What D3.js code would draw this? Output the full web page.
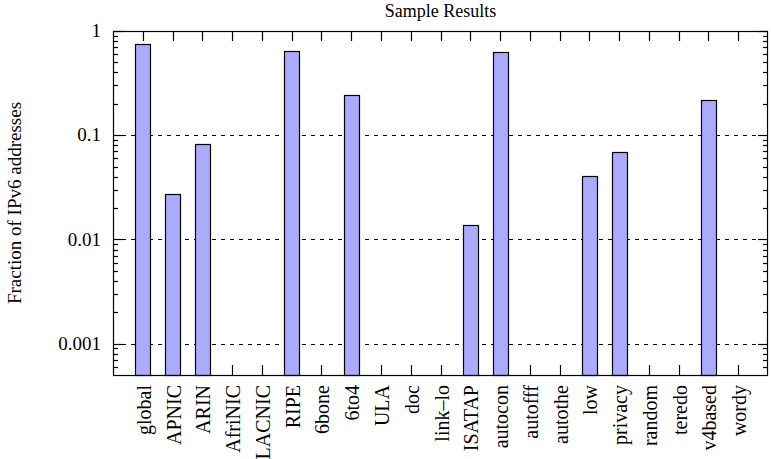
<!DOCTYPE html>
<html>
<head>
<meta charset="utf-8">
<script src="https://cdn.jsdelivr.net/npm/d3@7"></script>
<style>
  body { margin: 0; background: #fff; }
  svg text { font-family: "Liberation Serif", "DejaVu Serif", serif; fill: #000; }
</style>
</head>
<body>
<div id="chart"></div>
<script>
// Categories of IPv6 addresses and the fraction observed for each
const categories = ['global', 'APNIC', 'ARIN', 'AfriNIC', 'LACNIC', 'RIPE', '6bone', '6to4',
    'ULA', 'doc', 'link\u2013lo', 'ISATAP', 'autocon', 'autofff', 'autothe', 'low',
    'privacy', 'random', 'teredo', 'v4based', 'wordy'];
const fractions = [0.75, 0.0272, 0.082, null, null, 0.64, null, 0.242,
    null, null, null, 0.0137, 0.625, null, null, 0.0404,
    0.0687, null, null, 0.216, null];
const yTicks = [1, 0.1, 0.01, 0.001];
const yMinorTicks = [];
[0.001, 0.01, 0.1].forEach(d => { for (let k = 2; k <= 9; k++) yMinorTicks.push(d * k); });
[6, 7, 8, 9].forEach(k => yMinorTicks.push(0.0001 * k));

const width = 771, height = 459;
const margin = { top: 31, right: 3, bottom: 84, left: 113 };
const innerW = width - margin.left - margin.right;
const innerH = height - margin.top - margin.bottom;

const svg = d3.select('#chart').append('svg')
    .attr('width', width)
    .attr('height', height)
    .attr('font-family', '"Liberation Serif", serif');

const g = svg.append('g')
    .attr('transform', `translate(${margin.left},${margin.top})`);

// x: category index, with one empty slot on each side
const x = d3.scaleLinear().domain([-1, categories.length]).range([0, innerW]);
const y = d3.scaleLog().domain([0.0005, 1]).range([innerH, 0]);
const barW = x(0.5) - x(0);

// dashed grid lines
g.append('g')
    .selectAll('line')
    .data(yTicks.filter(d => d < 1))
    .enter()
    .append('line')
    .attr('x1', 0).attr('x2', innerW)
    .attr('y1', d => Math.round(y(d)) + 0.5)
    .attr('y2', d => Math.round(y(d)) + 0.5)
    .attr('stroke', '#000')
    .attr('stroke-width', 1)
    .attr('stroke-dasharray', '4,5');

// x ticks (bottom, pointing up, and top, pointing down)
const xTicks = g.append('g');
categories.forEach((c, i) => {
    const xi = Math.round(x(i)) + 0.5;
    xTicks.append('line').attr('x1', xi).attr('x2', xi).attr('y1', innerH).attr('y2', innerH - 10)
        .attr('stroke', '#000').attr('stroke-width', 1.2);
    xTicks.append('line').attr('x1', xi).attr('x2', xi).attr('y1', 0).attr('y2', 10)
        .attr('stroke', '#000').attr('stroke-width', 1.2);
});

// y ticks on both sides
const yTickG = g.append('g');
yTicks.forEach(d => {
    const yy = Math.round(y(d)) + 0.5;
    yTickG.append('line').attr('x1', 0).attr('x2', 10).attr('y1', yy).attr('y2', yy)
        .attr('stroke', '#000').attr('stroke-width', 1.2);
    yTickG.append('line').attr('x1', innerW).attr('x2', innerW - 10).attr('y1', yy).attr('y2', yy)
        .attr('stroke', '#000').attr('stroke-width', 1.2);
});
yMinorTicks.forEach(d => {
    const yy = Math.round(y(d)) + 0.5;
    yTickG.append('line').attr('x1', 0).attr('x2', 5).attr('y1', yy).attr('y2', yy)
        .attr('stroke', '#000').attr('stroke-width', 1.2);
    yTickG.append('line').attr('x1', innerW).attr('x2', innerW - 5).attr('y1', yy).attr('y2', yy)
        .attr('stroke', '#000').attr('stroke-width', 1.2);
});

// bars
g.append('g')
    .selectAll('rect')
    .data(fractions.map((v, i) => ({ i, v })).filter(d => d.v !== null))
    .enter()
    .append('rect')
    .attr('x', d => Math.round(x(d.i) - barW / 2) + 0.5)
    .attr('y', d => Math.round(y(d.v)) + 0.5)
    .attr('width', Math.round(barW))
    .attr('height', d => innerH - Math.round(y(d.v)))
    .attr('fill', '#aaaaff')
    .attr('stroke', '#000')
    .attr('stroke-width', 1.2);

// frame
g.append('rect')
    .attr('x', 0.5).attr('y', 0.5)
    .attr('width', innerW - 1).attr('height', innerH)
    .attr('fill', 'none')
    .attr('stroke', '#000')
    .attr('stroke-width', 1.2);

// y tick labels
g.append('g')
    .selectAll('text')
    .data(yTicks)
    .enter()
    .append('text')
    .attr('x', -12)
    .attr('y', d => y(d))
    .attr('dy', '0.33em')
    .attr('text-anchor', 'end')
    .style('font-size', '19px')
    .text(d => d);

// x tick labels, rotated
g.append('g')
    .selectAll('text')
    .data(categories)
    .enter()
    .append('text')
    .attr('transform', (d, i) => `translate(${x(i) + 8},${innerH + 10}) rotate(-90)`)
    .attr('text-anchor', 'end')
    .style('font-size', '20px')
    .text(d => d);

// title
svg.append('text')
    .attr('x', margin.left + innerW / 2)
    .attr('y', 17)
    .attr('text-anchor', 'middle')
    .style('font-size', '18px')
    .text('Sample Results');

// y axis label
svg.append('text')
    .attr('transform', `translate(21,${margin.top + innerH / 2}) rotate(-90)`)
    .attr('text-anchor', 'middle')
    .style('font-size', '19px')
    .text('Fraction of IPv6 addresses');
</script>
</body>
</html>
